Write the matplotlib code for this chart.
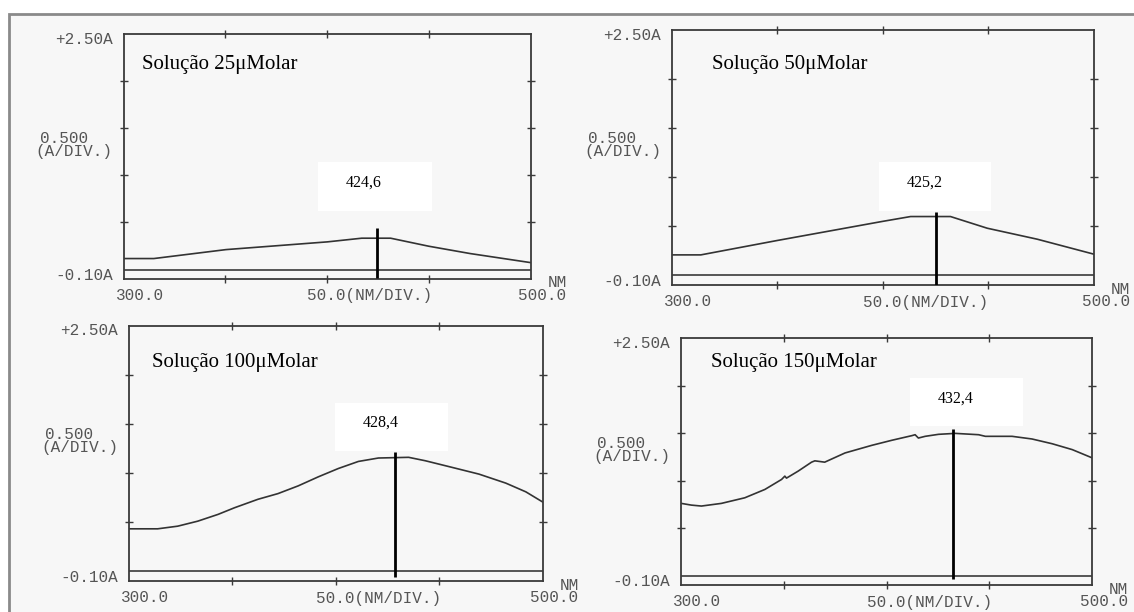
import matplotlib.pyplot as plt
from matplotlib.patches import Rectangle

W, H = 1134, 612

titles = ["Solução 25μMolar", "Solução 50μMolar",
          "Solução 100μMolar", "Solução 150μMolar"]
peaks = [424.6, 425.2, 428.4, 432.4]

# spectra (nm, absorbance)
wl_25 = [300, 314.8, 350.3, 400.1, 417.0, 431.2, 449.9, 470.3, 500]
abs_25 = [0.117, 0.117, 0.212, 0.294, 0.333, 0.333, 0.248, 0.170, 0.074]

wl_50 = [300, 313.7, 349.7, 399.4, 413.1, 432.0, 449.4, 473.1, 500]
abs_50 = [0.207, 0.207, 0.353, 0.547, 0.598, 0.598, 0.479, 0.367, 0.214]

wl_100 = [300, 313.8, 323.5, 333.2, 343.0, 351.0, 362.3, 372.0, 381.8, 391.5,
          401.2, 410.9, 420.6, 435.2, 443.3, 456.3, 469.2, 482.2, 491.9, 500]
abs_100 = [0.432, 0.432, 0.459, 0.510, 0.579, 0.647, 0.733, 0.791, 0.870,
           0.962, 1.047, 1.119, 1.154, 1.161, 1.126, 1.058, 0.990, 0.898,
           0.809, 0.706]

wl_150 = [300, 304.9, 309.8, 319.5, 330.9, 340.7, 348.8, 350.4, 351.2, 356.9,
          363.4, 365.0, 369.8, 379.7, 392.7, 402.4, 412.2, 413.8, 415.4,
          418.7, 425.2, 433.3, 444.7, 448.0, 461.0, 470.7, 480.5, 490.3, 500]
abs_150 = [0.759, 0.741, 0.731, 0.759, 0.818, 0.906, 1.011, 1.046, 1.025,
           1.099, 1.193, 1.207, 1.193, 1.290, 1.370, 1.423, 1.472, 1.482,
           1.447, 1.465, 1.486, 1.496, 1.482, 1.465, 1.465, 1.437, 1.387,
           1.325, 1.238]

wavelengths = [wl_25, wl_50, wl_100, wl_150]
absorbances = [abs_25, abs_50, abs_100, abs_150]

# layout (figure pixels, from top-left): left, top, right, bottom of each plot box
axes_px = [(123.7, 34, 530.6, 279), (671.9, 30, 1094, 285),
           (129.1, 326, 542.6, 581), (681.3, 338, 1092.2, 585)]
title_off = [(18, 30), (40, 34), (23, 37), (30, 25)]
box_x = [395.6, 398.0, 399.4, 411.3]
box_w = [56.0, 53.2, 54.8, 55.2]
box_y = [0.623, 0.659, 1.226, 1.578]
box_h = [0.514, 0.492, 0.488, 0.498]
text_x = [417.9, 419.6, 421.6, 433.6]
text_y = [0.921, 0.944, 1.510, 1.865]
mark_top = [0.436, 0.645, 1.219, 1.543]
mark_bot = [-0.085, -0.100, -0.061, -0.042]

ink = "#3a3a3a"
mono = dict(family="Liberation Mono", fontsize=11.5, color="#555555")

fig = plt.figure(figsize=(W / 100, H / 100), dpi=100, facecolor="white")
fig.patches.append(Rectangle((9 / W, -0.05), 1, 1.05 - 14 / H,
                             transform=fig.transFigure, facecolor="#f7f7f7",
                             edgecolor="#8a8a8a", lw=2, zorder=-10))

for i in range(4):
    l, t, r, b = axes_px[i]
    ax = fig.add_axes([l / W, 1 - b / H, (r - l) / W, (b - t) / H])
    ax.set_facecolor("#f7f7f7")
    ax.set_xlim(300, 500)
    ax.set_ylim(-0.1, 2.5)
    for s in ax.spines.values():
        s.set_color(ink)
        s.set_linewidth(1.3)
    ax.set_xticks([350, 400, 450])
    ax.set_yticks([0.5, 1.0, 1.5, 2.0])
    ax.tick_params(direction="inout", length=6, width=1, color=ink,
                   top=True, right=True, labelbottom=False, labelleft=False)

    ax.axhline(0, color=ink, lw=1.2)
    ax.plot(wavelengths[i], absorbances[i], color="#333333", lw=1.2)

    ax.add_patch(Rectangle((box_x[i], box_y[i]), box_w[i], box_h[i],
                           facecolor="white", edgecolor="none", zorder=3))
    ax.text(text_x[i], text_y[i], f"{peaks[i]:.1f}".replace(".", ","),
            family="Liberation Serif", fontsize=11.5, ha="center",
            va="center", zorder=4)
    ax.plot([peaks[i], peaks[i]], [mark_bot[i], mark_top[i]], color="black",
            lw=2, zorder=5, solid_capstyle="butt")

    tx, ty = title_off[i]
    ax.annotate(titles[i], (0, 1), xycoords="axes fraction",
                xytext=(tx, -ty), textcoords="offset pixels",
                family="Liberation Serif", fontsize=15, ha="left", va="center")

    # printer annotations around the box
    ax.annotate("+2.50A", (0, 1), xycoords="axes fraction", xytext=(-11, -5),
                textcoords="offset pixels", ha="right", va="center", **mono)
    ax.annotate("0.500", (0, 0.57), xycoords="axes fraction", xytext=(-60, 1),
                textcoords="offset pixels", ha="center", va="center", **mono)
    ax.annotate("(A/DIV.)", (0, 0.57), xycoords="axes fraction",
                xytext=(-11, -12), textcoords="offset pixels", ha="right",
                va="center", **mono)
    ax.annotate("-0.10A", (0, 0), xycoords="axes fraction", xytext=(-11, 3),
                textcoords="offset pixels", ha="right", va="center", **mono)
    ax.annotate("300.0", (0, 0), xycoords="axes fraction", xytext=(-8, -17),
                textcoords="offset pixels", ha="left", va="center", **mono)
    ax.annotate("50.0(NM/DIV.)", (400, 0), xycoords=("data", "axes fraction"),
                xytext=(-20, -17), textcoords="offset pixels", ha="left",
                va="center", **mono)
    ax.annotate("500.0", (1, 0), xycoords="axes fraction", xytext=(36, -17),
                textcoords="offset pixels", ha="right", va="center", **mono)
    ax.annotate("NM", (1, 0), xycoords="axes fraction", xytext=(36, -4),
                textcoords="offset pixels", ha="right", va="center", **mono)

fig.savefig("out.png", dpi=100, facecolor=fig.get_facecolor())
